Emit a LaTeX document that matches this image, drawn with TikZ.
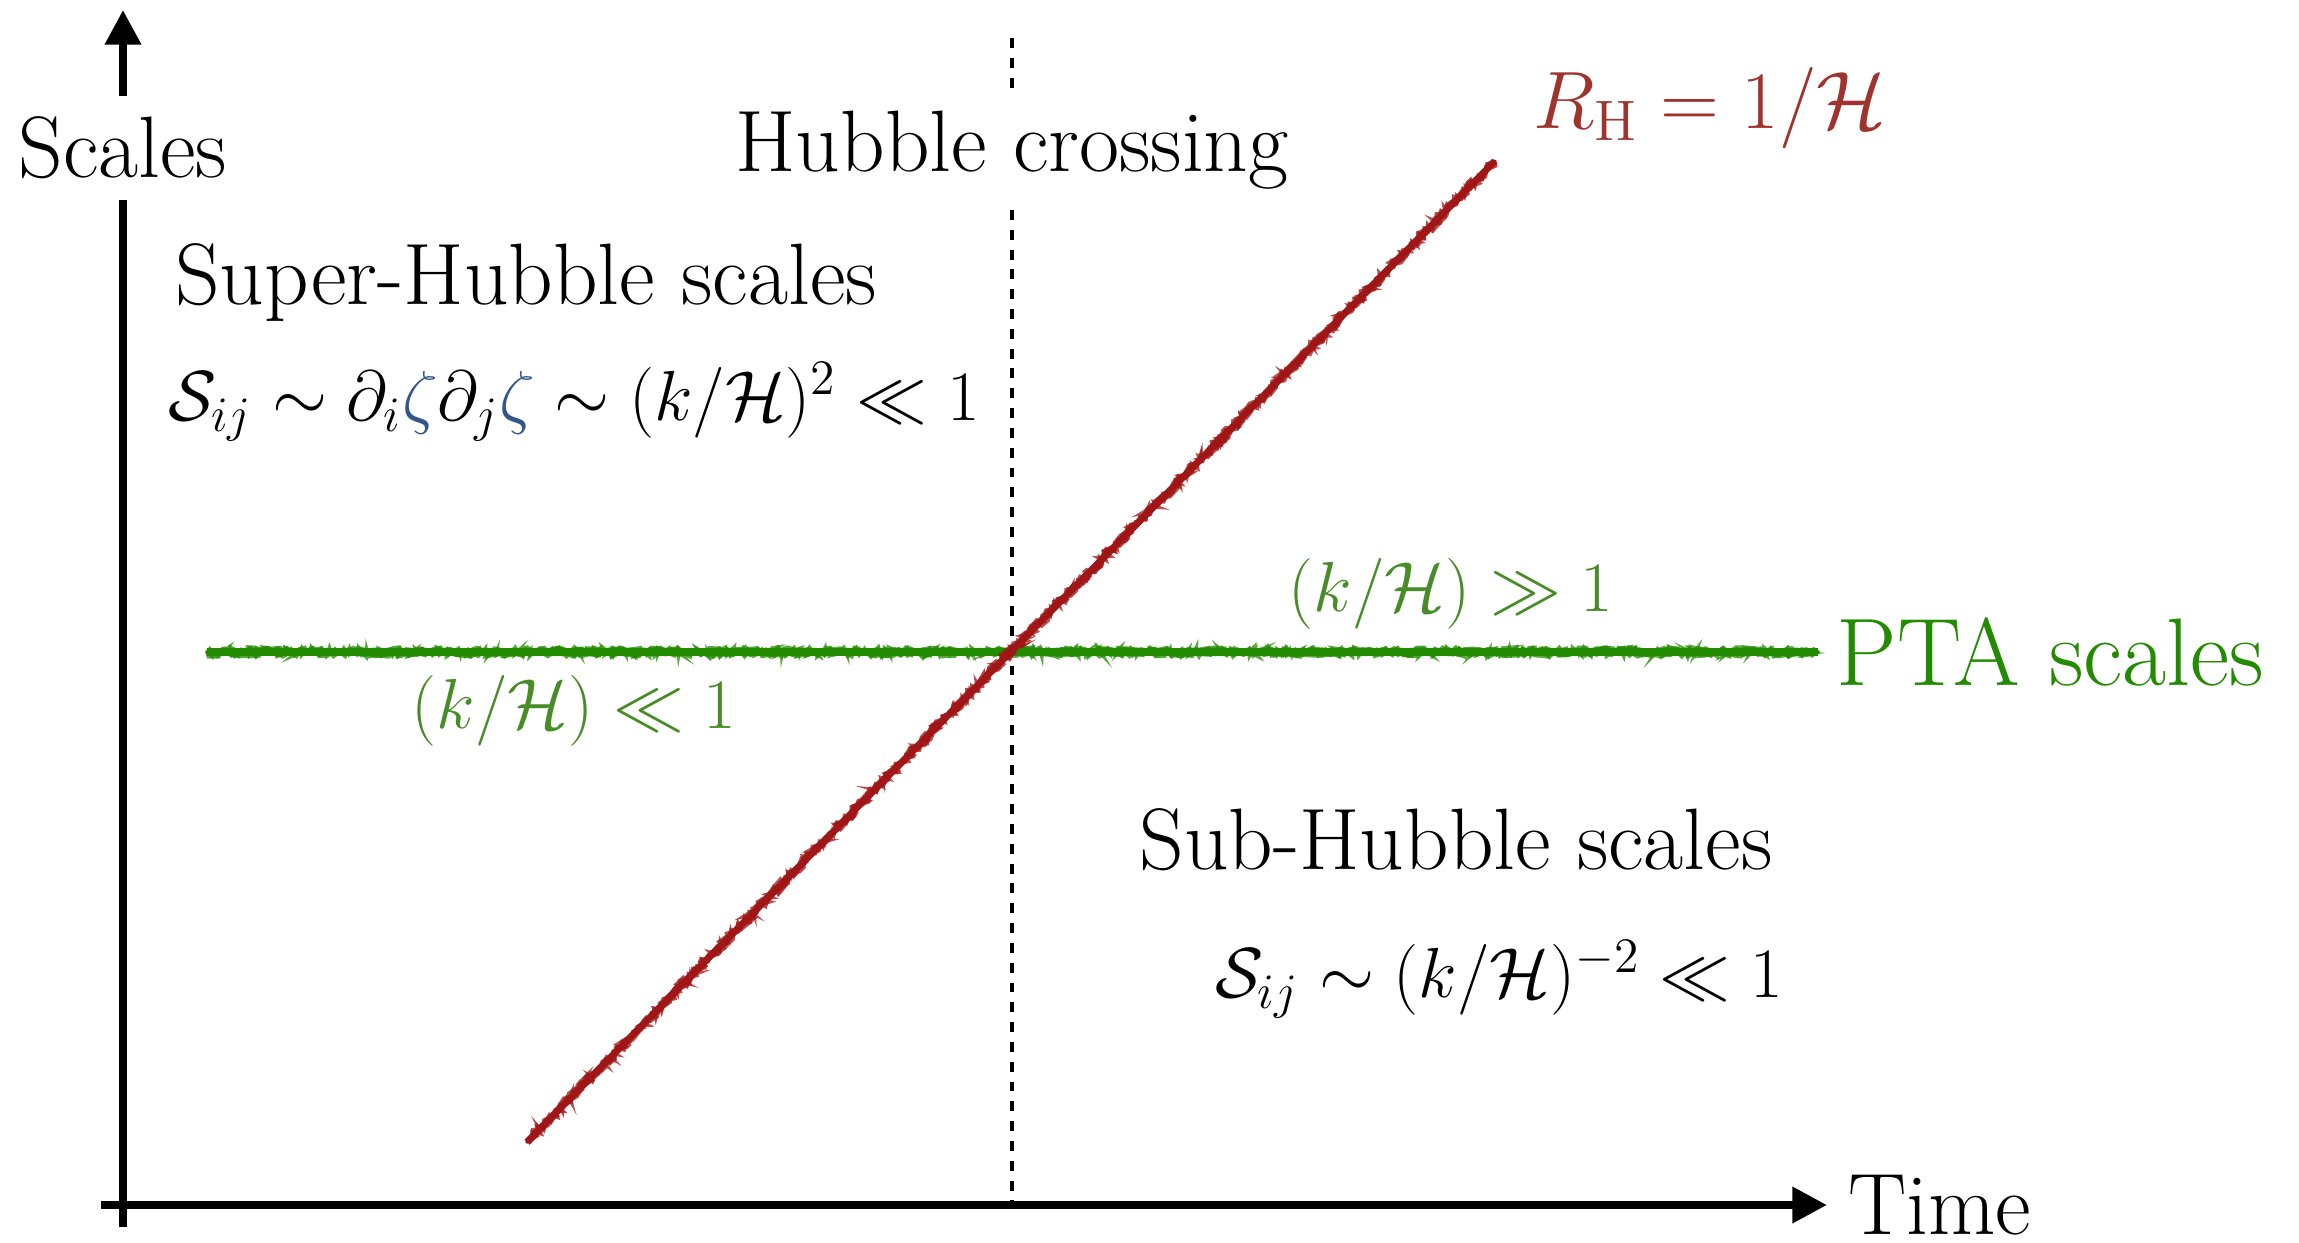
\RequirePackage{fix-cm}
\documentclass[tikz,border=0pt]{standalone}
\usepackage{fontspec}
\usepackage{amsmath}
\usepackage{tikz}
\usetikzlibrary{arrows.meta, positioning, decorations.pathmorphing, calc}

\definecolor{hubred}{RGB}{160,22,22}
\definecolor{hubtext}{RGB}{158,52,45}
\definecolor{ptagreen}{RGB}{34,139,0}
\definecolor{lblgreen}{RGB}{72,140,40}
\definecolor{zetablue}{RGB}{50,85,140}

\begin{document}
\begin{tikzpicture}[x=0.9226cm, y=0.9226cm, >={Triangle[length=0.32cm, width=0.32cm]},
    font=\fontsize{22.9}{27}\selectfont,
    eqn/.style={font=\fontsize{18.6}{22}\selectfont},
    axis/.style={line width=2.1pt},
    gaplabel/.style={fill=white, inner sep=0.185cm},
    pencil/.style={line width=#1, line cap=round, opacity=0.75, decorate,
        decoration={random steps, segment length=1.2pt, amplitude=1.3pt}}]
            \useasboundingbox (-1.23,-0.37) rectangle (21.76,12.05);
            \pgfmathsetseed{7}

            % axes
            \coordinate (O) at (0,0);
            \coordinate (ybot) at (0,-0.22);
            \coordinate (ytip) at (0,11.95);
            \coordinate (xleft) at (-0.22,0);
            \coordinate (xtip) at (17.04,0);
            \node[gaplabel] (scales) at (0,10.57) {Scales};
            \node[right=0.19cm of xtip, inner sep=0pt] (time) {Time};
            \draw[axis] (ybot) -- (scales.south);
            \draw[axis, ->] (scales.north) -- (ytip);
            \draw[axis, ->] (xleft) -- (xtip);

            % Hubble crossing
            \coordinate (dtop) at (8.89,11.67);
            \coordinate (dbot) at (8.89,0);
            \node[gaplabel] (crossing) at (8.89,10.55) {Hubble crossing};
            \draw[line width=1.3pt, dash pattern=on 2.6pt off 2.6pt] (dtop) -- (crossing.north);
            \draw[line width=1.3pt, dash pattern=on 2.6pt off 2.6pt] (crossing.south) -- (dbot);

            % PTA scales
            \coordinate (cross) at (8.89,5.53);
            \coordinate (gleft) at (0.84,5.53);
            \coordinate (gright) at (16.95,5.53);
            \draw[ptagreen, line width=2.3pt] (gleft) -- (gright);
            \foreach \k in {1,...,5}
                \draw[ptagreen, pencil=0.9pt] (gleft) -- (gright);
            \node[right=0.05cm of gright, ptagreen, font=\fontsize{25.2}{30}\selectfont] (pta) {PTA scales};

            % Hubble radius
            \coordinate (rlow) at ($(cross)+(-4.85,-4.9)$);
            \coordinate (rhigh) at ($(cross)+(4.83,4.91)$);
            \draw[hubred, line width=1.8pt] (rlow) -- (rhigh);
            \foreach \k in {1,...,5}
                \draw[hubred, pencil=0.8pt] (rlow) -- (rhigh);
            \node[hubtext, font=\fontsize{21.4}{25}\selectfont] (rhub) at (15.87,10.97) {$R_{\mathrm{H}} = 1/\mathcal{H}$};

            % regions
            \node (superlbl) at (4.03,9.22) {Super-Hubble scales};
            \node[eqn] (supereq) at (4.51,8.03)
                {$\mathcal{S}_{ij} \sim \partial_i{\color{zetablue}\zeta}\partial_j{\color{zetablue}\zeta} \sim (k/\mathcal{H})^2 \ll 1$};
            \node[eqn, lblgreen] (ggone) at (13.28,6.11) {$(k/\mathcal{H}) \gg 1$};
            \node[eqn, lblgreen] (llone) at (4.51,4.94) {$(k/\mathcal{H}) \ll 1$};
            \node (sublbl) at (13.33,3.65) {Sub-Hubble scales};
            \node[eqn] (subeq) at (13.76,2.26) {$\mathcal{S}_{ij} \sim (k/\mathcal{H})^{-2} \ll 1$};
        \end{tikzpicture}
\end{document}
